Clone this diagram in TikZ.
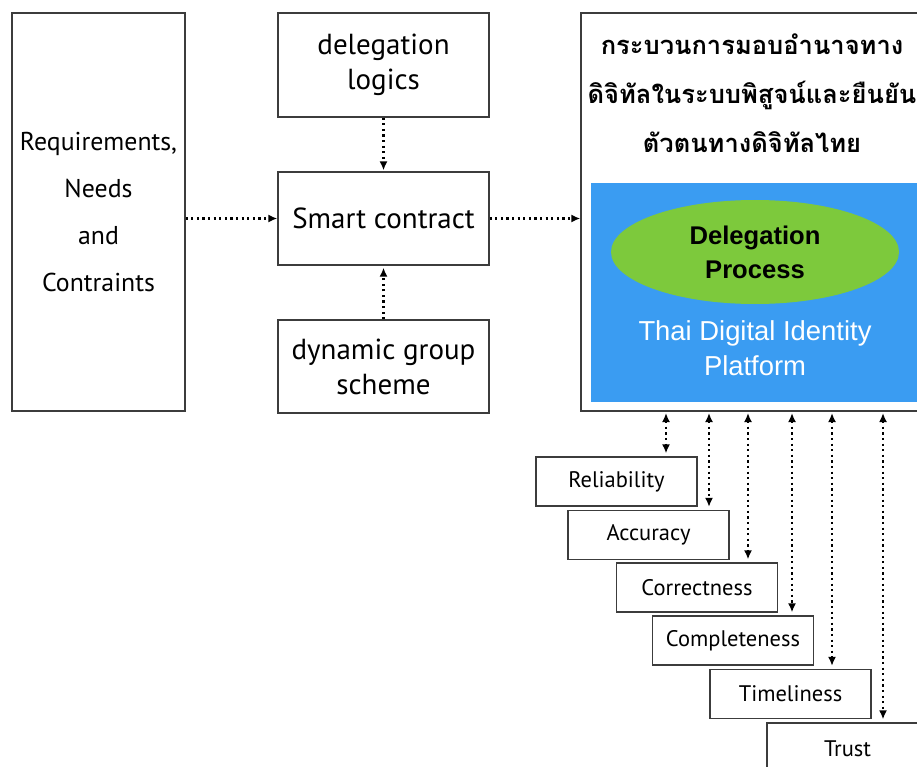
\documentclass[tikz,border=0pt]{standalone}
\usepackage{fontspec}
\setmainfont{PT Sans}
\newfontfamily\thaifont[Script=Thai]{Loma}
\newfontfamily\arialfont{Liberation Sans}
\usetikzlibrary{arrows.meta,shapes.geometric,calc}
\definecolor{platformblue}{HTML}{3A9CF2}
\definecolor{procgreen}{HTML}{7DC93C}
\definecolor{edgegray}{HTML}{3C3C3C}
\tikzset{
  box/.style={draw=edgegray, line width=1.3pt, fill=white, inner sep=0pt, align=center, font=\fontsize{29}{35}\selectfont},
  smallbox/.style={box, minimum width=161pt, minimum height=49pt, font=\fontsize{22.5}{26}\selectfont},
  flow/.style={line width=2.2pt, dash pattern=on 2.2pt off 3.4pt, -{Latex[length=9pt,width=8pt]}},
  biflow/.style={line width=2.2pt, dash pattern=on 2.2pt off 3.4pt, {Latex[length=9pt,width=8pt]}-{Latex[length=9pt,width=8pt]}, shorten >=3pt, shorten <=2pt}
}
\begin{document}
\begin{tikzpicture}[x=1pt,y=-1pt]
\useasboundingbox (0,0) rectangle (917,767);
\clip (0,0) rectangle (917,767);

% input blocks
\node[box, minimum width=173pt, minimum height=398pt, font=\fontsize{25.8}{47}\selectfont] (req) at (98.5,212) {Requirements,\\Needs\\and\\Contraints};
\node[box, minimum width=211pt, minimum height=104pt] (logic) at (383.5,65) {delegation\\logics};
\node[box, minimum width=211pt, minimum height=93pt] (smart) at (383.5,218.5) {Smart contract};
\node[box, minimum width=211pt, minimum height=93pt] (dyn) at (383.5,366.5) {dynamic group\\scheme};

% platform block
\node[box, minimum width=344pt, minimum height=398pt] (big) at (753,212) {};
\node[fill=platformblue, inner sep=0pt, minimum width=334pt, minimum height=219pt] (blue) at (758,292.5) {};
\node[font=\thaifont\bfseries\fontsize{25.5}{49}\selectfont, align=center] (title) at (752,93)
  {กระบวนการมอบอำนาจทาง\\ดิจิทัลในระบบพิสูจน์และยืนยัน\\ตัวตนทางดิจิทัลไทย};
\node[ellipse, fill=procgreen, minimum width=288pt, minimum height=104pt, inner sep=0pt,
  align=center, font=\arialfont\bfseries\fontsize{25.6}{34}\selectfont] (proc) at (755,252) {Delegation\\Process};
\node[text=white, align=center, font=\arialfont\fontsize{27.4}{35}\selectfont] (plat) at (755,348) {Thai Digital Identity\\Platform};

% quality attributes
\node[smallbox] (rel) at (616.5,481.5) {Reliability};
\node[smallbox] (acc) at (648.5,535) {Accuracy};
\node[smallbox] (cor) at (697,587.5) {Correctness};
\node[smallbox] (com) at (733,640.5) {Completeness};
\node[smallbox] (tim) at (790.5,694) {Timeliness};
\node[smallbox, minimum height=52pt] (tru) at (847.5,749) {Trust};

% main flow
\draw[flow] (req.east |- smart) -- (smart.west);
\draw[flow] (smart.east) -- (big.west |- smart);
\draw[flow, shorten >=1pt] (logic.south) -- (smart.north);
\draw[flow, shorten >=2pt] (dyn.north) -- (smart.south);

% links between platform and attributes
\coordinate (p1) at (666,411);
\coordinate (p2) at (709,411);
\coordinate (p3) at (748,411);
\coordinate (p4) at (792,411);
\coordinate (p5) at (832,411);
\coordinate (p6) at (883,411);
\draw[biflow] (p1) -- (p1 |- rel.north);
\draw[biflow] (p2) -- (p2 |- acc.north);
\draw[biflow] (p3) -- (p3 |- cor.north);
\draw[biflow] (p4) -- (p4 |- com.north);
\draw[biflow] (p5) -- (p5 |- tim.north);
\draw[biflow] (p6) -- (p6 |- tru.north);
\end{tikzpicture}
\end{document}
